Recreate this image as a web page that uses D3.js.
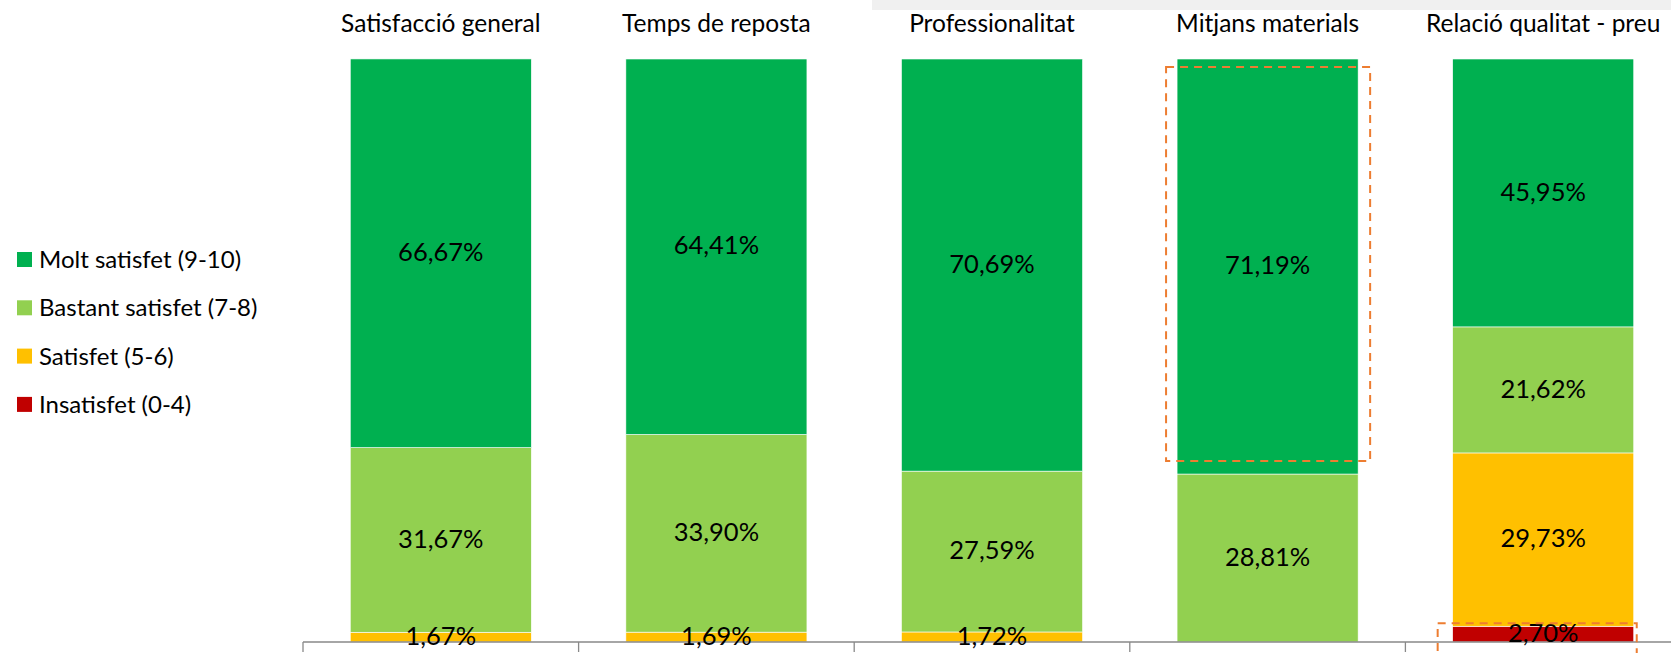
<!DOCTYPE html>
<html>
<head>
<meta charset="utf-8">
<script src="https://cdn.jsdelivr.net/npm/d3@7"></script>
<style>
  body { margin: 0; background: #fff; }
  text { font-family: Lato, "Noto Sans", sans-serif; fill: #000; }
</style>
</head>
<body>
<div id="chart"></div>
<script>
// categories (one stacked bar each)
const categories = ["Satisfacció general", "Temps de reposta", "Professionalitat", "Mitjans materials", "Relació qualitat - preu"];

// series, bottom of the stack first
const seriesNames = ["Insatisfet (0-4)", "Satisfet (5-6)", "Bastant satisfet (7-8)", "Molt satisfet (9-10)"];
const seriesColors = ["#C00000", "#FFC000", "#92D050", "#00B050"];

// percentages per series, in category order
const insatisfet = [0, 0, 0, 0, 2.70];
const satisfet = [1.67, 1.69, 1.72, 0, 29.73];
const bastant = [31.67, 33.90, 27.59, 28.81, 21.62];
const molt = [66.67, 64.41, 70.69, 71.19, 45.95];

const seriesValues = [insatisfet, satisfet, bastant, molt];

const width = 1671, height = 653;
const margin = {top: 59, bottom: 11, left: 303};

const svg = d3.select("#chart")
    .append("svg")
    .attr("width", width)
    .attr("height", height);

// light gray strip at the top right
svg.append("rect")
    .attr("x", 872).attr("y", 0)
    .attr("width", width - 872).attr("height", 10)
    .attr("fill", "#f0f0f0");

// build the table d3.stack wants
const table = categories.map((c, i) => {
    const row = {cat: c};
    seriesNames.forEach((s, j) => row[s] = seriesValues[j][i]);
    return row;
});
const stacked = d3.stack().keys(seriesNames)(table);

const x = d3.scaleBand()
    .domain(categories)
    .range([margin.left, margin.left + 5 * 275.6])
    .padding(0);
const barW = x.bandwidth() * 0.657;
const barX = c => x(c) + (x.bandwidth() - barW) / 2;

const y = d3.scaleLinear()
    .domain([0, 100])
    .range([height - margin.bottom, margin.top]);

// bars
const layers = svg.append("g")
    .selectAll("g")
    .data(stacked)
    .join("g")
    .attr("fill", (d, i) => seriesColors[i]);

layers.selectAll("rect")
    .data(d => d.filter(p => p[1] - p[0] > 0))
    .join("rect")
    .attr("x", d => barX(d.data.cat))
    .attr("y", d => y(d[1]))
    .attr("width", barW)
    .attr("height", d => y(d[0]) - y(d[1]))
    .attr("stroke", "#ffffff")
    .attr("stroke-width", 0.6);

// category axis with ticks between the bands
const axisY = y(0);
const axis = svg.append("g").attr("stroke", "#898989").attr("stroke-width", 1.3);
axis.append("line")
    .attr("x1", x.range()[0]).attr("x2", width)
    .attr("y1", axisY).attr("y2", axisY);
axis.selectAll("line.tick")
    .data(categories)
    .join("line")
    .attr("class", "tick")
    .attr("x1", d => x(d)).attr("x2", d => x(d))
    .attr("y1", axisY).attr("y2", axisY + 10);

// value labels, drawn on top of every bar and the axis
const fmt = v => v.toFixed(2).replace(".", ",") + "%";
svg.append("g")
    .selectAll("g")
    .data(stacked)
    .join("g")
    .selectAll("text")
    .data(d => d.filter(p => p[1] - p[0] > 0))
    .join("text")
    .attr("x", d => x(d.data.cat) + x.bandwidth() / 2)
    .attr("y", d => (y(d[0]) + y(d[1])) / 2)
    .attr("dy", "0.3em")
    .attr("text-anchor", "middle")
    .attr("font-size", 25.5)
    .text(d => fmt(d[1] - d[0]));

// category titles above the bars
svg.append("g")
    .selectAll("text")
    .data(categories)
    .join("text")
    .attr("x", d => x(d) + x.bandwidth() / 2)
    .attr("y", 32)
    .attr("text-anchor", "middle")
    .attr("font-size", 24.5)
    .text(d => d);

// legend, top series first
const legendItems = seriesNames.map((s, i) => ({name: s, color: seriesColors[i]})).reverse();
const legend = svg.append("g")
    .selectAll("g")
    .data(legendItems)
    .join("g")
    .attr("transform", (d, i) => `translate(17,${252 + i * 48.3})`);
legend.append("rect")
    .attr("width", 15).attr("height", 15)
    .attr("fill", d => d.color);
legend.append("text")
    .attr("x", 22)
    .attr("y", 7.5)
    .attr("dy", "0.36em")
    .attr("font-size", 24)
    .text(d => d.name);

// orange dashed highlight boxes
const highlights = [
    {cat: "Mitjans materials", series: 3, padL: 11, padR: 12, padT: -8, padB: -13},
    {cat: "Relació qualitat - preu", series: 0, padL: 15, padR: 3, padT: 3, padB: 20}
];
svg.append("g")
    .selectAll("rect")
    .data(highlights)
    .join("rect")
    .attr("x", d => barX(d.cat) - d.padL)
    .attr("y", d => y(stacked[d.series][categories.indexOf(d.cat)][1]) - d.padT)
    .attr("width", d => barW + d.padL + d.padR)
    .attr("height", d => {
        const p = stacked[d.series][categories.indexOf(d.cat)];
        return y(p[0]) - y(p[1]) + d.padT + d.padB;
    })
    .attr("fill", "none")
    .attr("stroke", "#ED7D31")
    .attr("stroke-width", 2)
    .attr("stroke-dasharray", "8,6");
</script>
</body>
</html>
